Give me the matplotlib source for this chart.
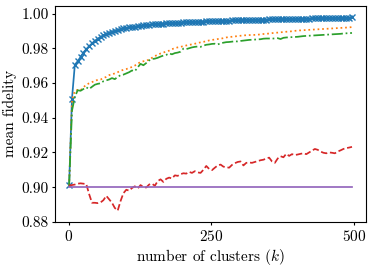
import numpy as np
import matplotlib
matplotlib.use("Agg")
import matplotlib.pyplot as plt

plt.rcParams['font.family'] = 'serif'
plt.rcParams['font.serif'] = ['cmr10', 'DejaVu Serif']
plt.rcParams['mathtext.fontset'] = 'cm'
plt.rcParams['axes.formatter.use_mathtext'] = True
plt.rcParams['font.size'] = 11
plt.rcParams['xtick.major.size'] = 2.5
plt.rcParams['ytick.major.size'] = 2.5
plt.rcParams['xtick.major.pad'] = 2.5
plt.rcParams['ytick.major.pad'] = 2.0

k = np.arange(1, 501, 5)

blue = [0.901, 0.951, 0.9705, 0.9725, 0.975, 0.9775, 0.9795, 0.9812, 0.9828, 0.9843,
        0.9855, 0.9866, 0.9875, 0.9883, 0.9890, 0.9896, 0.9901, 0.9906, 0.9910, 0.9914,
        0.9917, 0.9920, 0.9923, 0.9925, 0.9928, 0.9930, 0.9932, 0.9934, 0.9935, 0.9937,
        0.9938, 0.9940, 0.9941, 0.9942, 0.9943, 0.9944, 0.9945, 0.9946, 0.9947, 0.9948,
        0.9949, 0.9950, 0.9950, 0.9951, 0.9952, 0.9953, 0.9953, 0.9954, 0.9955, 0.9955,
        0.9956, 0.9957, 0.9957, 0.9958, 0.9958, 0.9959, 0.9959, 0.9960, 0.9960, 0.9961,
        0.9961, 0.9962, 0.9962, 0.9963, 0.9963, 0.9964, 0.9964, 0.9964, 0.9965, 0.9965,
        0.9966, 0.9966, 0.9967, 0.9967, 0.9967, 0.9968, 0.9968, 0.9969, 0.9969, 0.9969,
        0.9970, 0.9970, 0.9971, 0.9971, 0.9971, 0.9972, 0.9972, 0.9972, 0.9973, 0.9973,
        0.9974, 0.9974, 0.9974, 0.9975, 0.9975, 0.9975, 0.9976, 0.9976, 0.9977, 0.9978]

orange = [0.901, 0.950, 0.9555, 0.9560, 0.9558, 0.9575, 0.9590, 0.9598, 0.9605, 0.9612,
          0.9618, 0.9620, 0.9628, 0.9635, 0.9645, 0.9650, 0.9655, 0.9662, 0.9670, 0.9676,
          0.9680, 0.9686, 0.9692, 0.9700, 0.9712, 0.9720, 0.9725, 0.9728, 0.9735, 0.9745,
          0.9755, 0.9762, 0.9770, 0.9775, 0.9782, 0.9786, 0.9795, 0.9800, 0.9805, 0.9808,
          0.9812, 0.9816, 0.9820, 0.9822, 0.9826, 0.9830, 0.9834, 0.9837, 0.9840, 0.9845,
          0.9848, 0.9850, 0.9853, 0.9855, 0.9858, 0.9862, 0.9865, 0.9866, 0.9868, 0.9870,
          0.9872, 0.9874, 0.9875, 0.9876, 0.9876, 0.9877, 0.9878, 0.9880, 0.9882, 0.9883,
          0.9885, 0.9887, 0.9889, 0.9890, 0.9892, 0.9893, 0.9895, 0.9896, 0.9898, 0.9900,
          0.9902, 0.9903, 0.9904, 0.9905, 0.9906, 0.9907, 0.9908, 0.9909, 0.9910, 0.9911,
          0.9912, 0.9913, 0.9914, 0.9915, 0.9916, 0.9917, 0.9918, 0.9919, 0.9920, 0.9922]

green = [0.901, 0.944, 0.952, 0.9558, 0.9555, 0.9565, 0.9575, 0.9565, 0.9578, 0.9590,
         0.9595, 0.9598, 0.9610, 0.9615, 0.9620, 0.9628, 0.9622, 0.9635, 0.9645, 0.9648,
         0.9655, 0.9662, 0.9672, 0.9668, 0.9690, 0.9710, 0.9702, 0.9715, 0.9730, 0.9738,
         0.9740, 0.9745, 0.9752, 0.9758, 0.9762, 0.9770, 0.9765, 0.9772, 0.9775, 0.9780,
         0.9798, 0.9795, 0.9800, 0.9805, 0.9808, 0.9810, 0.9808, 0.9815, 0.9820, 0.9822,
         0.9825, 0.9826, 0.9822, 0.9828, 0.9832, 0.9835, 0.9836, 0.9838, 0.9840, 0.9839,
         0.9842, 0.9844, 0.9846, 0.9848, 0.9849, 0.9850, 0.9851, 0.9852, 0.9855, 0.9856,
         0.9856, 0.9855, 0.9857, 0.9858, 0.9853, 0.9860, 0.9862, 0.9863, 0.9864, 0.9865,
         0.9866, 0.9868, 0.9870, 0.9871, 0.9872, 0.9873, 0.9874, 0.9875, 0.9876, 0.9877,
         0.9878, 0.9879, 0.9880, 0.9881, 0.9882, 0.9883, 0.9885, 0.9886, 0.9887, 0.9888]

red = [0.901, 0.9012, 0.9015, 0.9020, 0.9022, 0.9020, 0.9018, 0.8960, 0.8910, 0.8910,
       0.8908, 0.8912, 0.8925, 0.8950, 0.8930, 0.8910, 0.8880, 0.8865, 0.8920, 0.8965,
       0.8985, 0.8980, 0.8995, 0.9005, 0.8992, 0.9012, 0.9000, 0.8998, 0.9015, 0.9020,
       0.9008, 0.9035, 0.9045, 0.9030, 0.9048, 0.9055, 0.9050, 0.9068, 0.9065, 0.9075,
       0.9080, 0.9078, 0.9088, 0.9082, 0.9092, 0.9085, 0.9082, 0.9100, 0.9122, 0.9105,
       0.9098, 0.9112, 0.9125, 0.9130, 0.9118, 0.9115, 0.9112, 0.9128, 0.9138, 0.9145,
       0.9148, 0.9125, 0.9140, 0.9142, 0.9140, 0.9145, 0.9150, 0.9155, 0.9158, 0.9165,
       0.9170, 0.9148, 0.9140, 0.9165, 0.9178, 0.9172, 0.9192, 0.9180, 0.9190, 0.9185,
       0.9188, 0.9192, 0.9195, 0.9190, 0.9200, 0.9210, 0.9220, 0.9215, 0.9205, 0.9198,
       0.9195, 0.9200, 0.9198, 0.9195, 0.9205, 0.9212, 0.9220, 0.9225, 0.9228, 0.9232]

baseline = 0.90
purple = np.full(len(k), baseline)

fig = plt.figure(figsize=(3.74, 2.67), dpi=100)
ax = fig.add_axes([0.147, 0.169, 0.832, 0.809])

lw = 1.25
ax.plot(k, blue, color='C0', linestyle='-', marker='x', markersize=4.5,
        markeredgewidth=1.0, linewidth=lw)
ax.plot(k, orange, color='C1', linestyle=':', linewidth=lw)
ax.plot(k, green, color='C2', linestyle='-.', linewidth=lw)
ax.plot(k, red, color='C3', linestyle='--', linewidth=lw)
ax.plot(k, purple, color='C4', linestyle='-', linewidth=lw)

ax.set_xlim(-23.75, 520.75)
ax.set_ylim(0.88, 1.0044)
ax.set_xticks([0, 250, 500])
ax.set_yticks([0.88, 0.90, 0.92, 0.94, 0.96, 0.98, 1.00])
ax.yaxis.set_major_formatter(matplotlib.ticker.FormatStrFormatter('%.2f'))
ax.set_xlabel('number of clusters ($k$)', labelpad=2)
ax.set_ylabel('mean fidelity', labelpad=3)

fig.savefig('out.png', dpi=100)
